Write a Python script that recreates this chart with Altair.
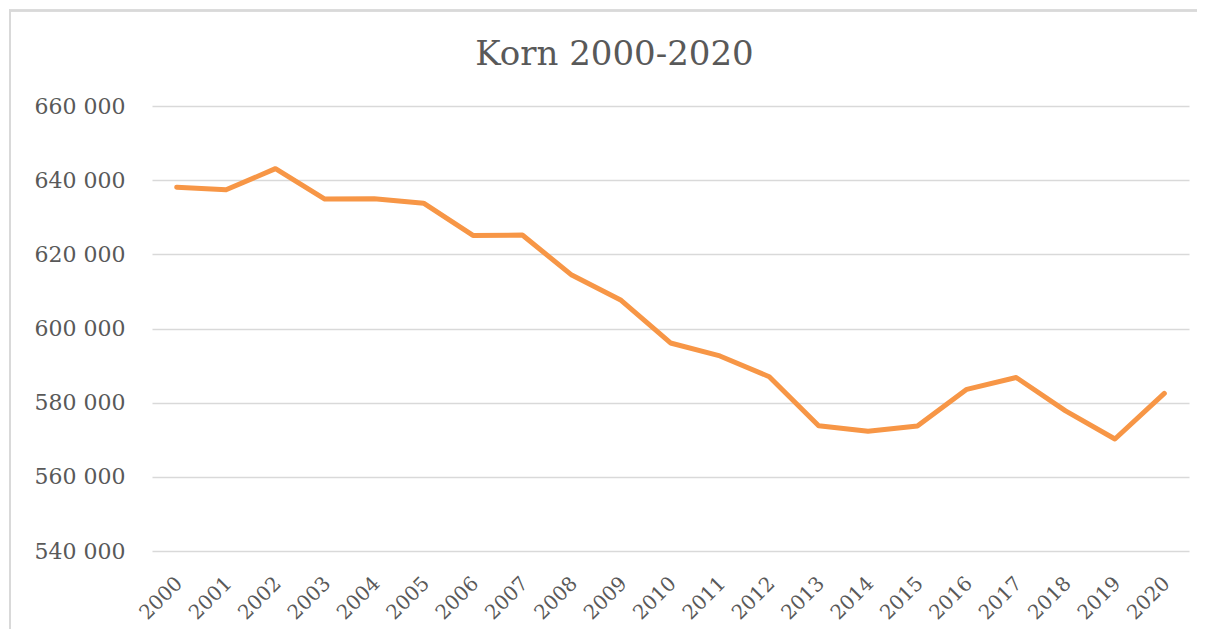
import altair as alt
import pandas as pd

years = [str(y) for y in range(2000, 2021)]
values = [638100, 637400, 643100, 634900, 635000, 633800, 625100, 625200,
          614400, 607600, 596100, 592600, 587000, 573800, 572300, 573700,
          583600, 586800, 577800, 570200, 582500]
title_text = ["Korn 2000-2020"]

df = pd.DataFrame({"year": years, "value": values})
tdf = pd.DataFrame({"t": title_text})

FONT = "DejaVu Serif"
TXT = "#595959"
W, H = 1037, 445

line = alt.Chart(df).mark_line(color="#F79646", strokeWidth=5, strokeJoin="round", strokeCap="round").encode(
    x=alt.X("year:O", sort=years, title=None,
            scale=alt.Scale(paddingInner=0, paddingOuter=0.5),
            axis=alt.Axis(labelAngle=-45, labelFont=FONT, labelFontSize=20, labelColor=TXT,
                          labelPadding=22, labelOffset=-5, ticks=False, domain=False, grid=False)),
    y=alt.Y("value:Q", title=None,
            scale=alt.Scale(domain=[540000, 660000], nice=False, zero=False),
            axis=alt.Axis(values=list(range(540000, 660001, 20000)), format=",d",
                          labelExpr="replace(datum.label, ',', ' ')",
                          labelFont=FONT, labelFontSize=22, labelColor=TXT,
                          labelPadding=27, ticks=False, domain=False,
                          grid=True, gridColor="#d9d9d9", gridWidth=1.5)),
)

border = alt.Chart(df).mark_rect(fill=None, stroke="#d9d9d9", strokeWidth=1.5).encode(
    x=alt.value(-142), x2=alt.value(W + 60), y=alt.value(-95.5), y2=alt.value(H + 120)
)

title = alt.Chart(tdf).mark_text(font=FONT, fontSize=34, color=TXT, align="center",
                                 baseline="alphabetic").encode(
    text="t:N", x=alt.value(462.5), y=alt.value(-41)
)

chart = alt.layer(border, line, title).properties(
    width=W, height=H,
    autosize=alt.AutoSizeParams(type="none"),
    padding={"left": 144, "top": 98, "right": 8, "bottom": 78},
).configure_view(stroke=None)

chart.save("out.html", embed_options={"renderer": "svg", "actions": False})
